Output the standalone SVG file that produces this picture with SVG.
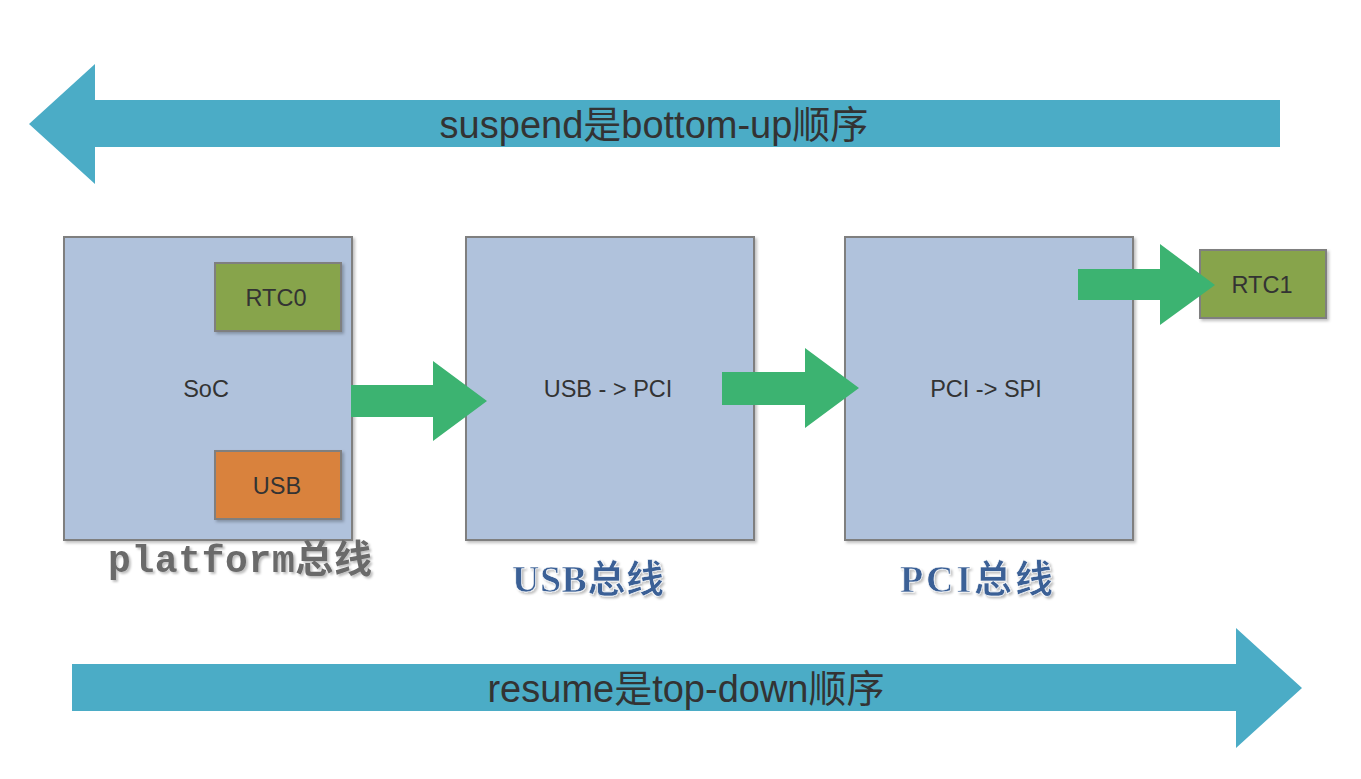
<svg xmlns="http://www.w3.org/2000/svg" width="1361" height="779" viewBox="0 0 1361 779">
<defs>
<filter id="sh" x="-5%" y="-5%" width="115%" height="115%">
<feDropShadow dx="2" dy="2" stdDeviation="1.5" flood-color="#000" flood-opacity="0.25"/>
</filter>
<filter id="tsh" x="-5%" y="-10%" width="115%" height="130%">
<feDropShadow dx="2" dy="2" stdDeviation="1" flood-color="#000" flood-opacity="0.25"/>
</filter>
</defs>
<style>
.bus{fill:#b0c2dc;stroke:#7f7f7f;stroke-width:2}
.rtc{fill:#87a44c;stroke:#7f7f7f;stroke-width:2}
.usb{fill:#d9823e;stroke:#7f7f7f;stroke-width:2}
.t{font-family:"Liberation Sans",Arial,sans-serif;font-size:23.5px;fill:#333;text-anchor:middle}
.big{font-family:"Liberation Sans","Noto Sans CJK SC",sans-serif;font-size:38px;fill:#333;text-anchor:middle}
.blue{fill:#4bacc6}
.green{fill:#3cb371}
.lbl{font-family:"Liberation Serif","Noto Sans CJK SC",serif;font-size:38px;font-weight:bold;fill:#3b6096;stroke:#ffffff;stroke-width:0.6;filter:url(#tsh)}
.plat{font-family:"Liberation Mono","Noto Sans CJK SC",monospace;font-size:38px;font-weight:bold;fill:#6b6b6b;filter:url(#tsh)}
</style>
<rect width="1361" height="779" fill="#ffffff"/>
<g id="suspend-arrow">
<polygon class="blue" points="29,124 95,64 95,100 1280,100 1280,147 95,147 95,184"/>
<text class="big" x="654" y="138">suspend是bottom-up顺序</text>
</g>
<g id="resume-arrow">
<polygon class="blue" points="1302,688 1236,628 1236,664 72,664 72,711 1236,711 1236,748"/>
<text class="big" x="686" y="702">resume是top-down顺序</text>
</g>
<g id="soc">
<rect class="bus" x="64" y="237" width="288" height="303" filter="url(#sh)"/>
<text class="t" x="206" y="397">SoC</text>
</g>
<g id="rtc0">
<rect class="rtc" x="215" y="263" width="126" height="68" filter="url(#sh)"/>
<text class="t" x="276" y="306">RTC0</text>
</g>
<g id="usb">
<rect class="usb" x="215" y="451" width="126" height="68" filter="url(#sh)"/>
<text class="t" x="277" y="494">USB</text>
</g>
<g id="usb-pci">
<rect class="bus" x="466" y="237" width="288" height="303" filter="url(#sh)"/>
<text class="t" x="608" y="397">USB - &gt; PCI</text>
</g>
<g id="pci-spi">
<rect class="bus" x="845" y="237" width="288" height="303" filter="url(#sh)"/>
<text class="t" x="986" y="397">PCI -&gt; SPI</text>
</g>
<g id="rtc1">
<rect class="rtc" x="1200" y="250" width="126" height="68" filter="url(#sh)"/>
<text class="t" x="1262" y="293">RTC1</text>
</g>
<g id="connectors">
<polygon class="green" points="351,385 433,385 433,361 487,401 433,441 433,417 351,417"/>
<polygon class="green" points="722,372 805,372 805,348 859,388 805,428 805,405 722,405"/>
<polygon class="green" points="1078,269 1160,269 1160,244 1215,285 1160,325 1160,300 1078,300"/>
</g>
<g id="labels">
<text class="plat" x="108" y="572" textLength="264">platform总线</text>
<text class="lbl" x="512" y="592" textLength="152">USB总线</text>
<text class="lbl" x="900" y="592" textLength="153">PCI总线</text>
</g>
</svg>
